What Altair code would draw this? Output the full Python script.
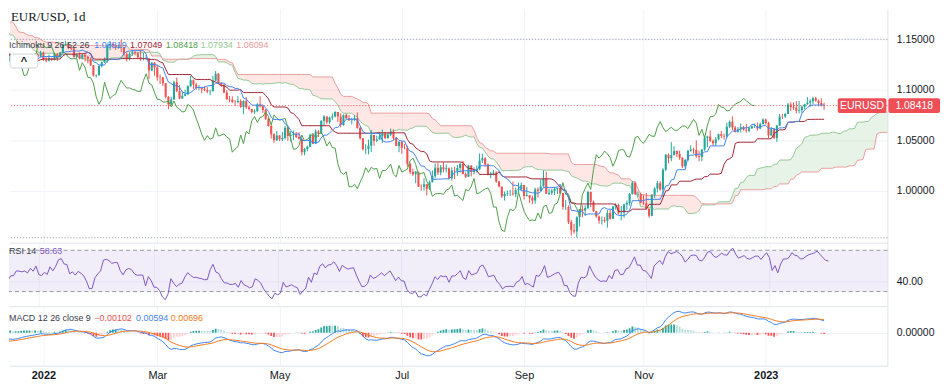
import numpy as np
import pandas as pd
import altair as alt

# ---------------- data (daily EUR/USD bars) ----------------
months = ["2021-09", "2021-10", "2021-11", "2021-12", "2022-01", "2022-02", "2022-03",
          "2022-04", "2022-05", "2022-06", "2022-07", "2022-08", "2022-09", "2022-10",
          "2022-11", "2022-12", "2023-01"]
month_counts = [22, 21, 22, 23, 21, 20, 23, 21, 22, 22, 21, 23, 22, 21, 22, 22, 22]
tick_months = ["2022-01", "2022-03", "2022-05", "2022-07", "2022-09", "2022-11", "2023-01"]
tick_labels = ["2022", "Mar", "May", "Jul", "Sep", "Nov", "2023"]
first_open = 1.1808

close = [
    # 2021-09
    1.1845, 1.1875, 1.1880, 1.1870, 1.1860, 1.1820, 1.1815, 1.1812, 1.1806, 1.1805, 1.1780, 1.1765, 1.1725, 1.1725, 1.1725, 1.1690, 1.1740, 1.1718, 1.1695, 1.1683, 1.1595, 1.1580,
    # 2021-10
    1.1595, 1.1620, 1.1598, 1.1535, 1.1555, 1.1570, 1.1552, 1.1530, 1.1595, 1.1595, 1.1600, 1.1610, 1.1645, 1.1655, 1.1625, 1.1645, 1.1605, 1.1595, 1.1605, 1.1680, 1.1558,
    # 2021-11
    1.1608, 1.1580, 1.1610, 1.1555, 1.1568, 1.1590, 1.1593, 1.1480, 1.1445, 1.1445, 1.1368, 1.1320, 1.1320, 1.1370, 1.1290, 1.1235, 1.1250, 1.1200, 1.1210, 1.1318, 1.1290, 1.1338,
    # 2021-12
    1.1320, 1.1305, 1.1315, 1.1285, 1.1265, 1.1345, 1.1290, 1.1318, 1.1285, 1.1260, 1.1289, 1.1330, 1.1238, 1.1282, 1.1283, 1.1329, 1.1327, 1.1320, 1.1327, 1.1311, 1.1348, 1.1326, 1.1370,
    # 2022-01
    1.1298, 1.1287, 1.1313, 1.1295, 1.1360, 1.1326, 1.1368, 1.1440, 1.1455, 1.1413, 1.1408, 1.1325, 1.1343, 1.1311, 1.1344, 1.1326, 1.1302, 1.1243, 1.1142, 1.1146, 1.1235,
    # 2022-02
    1.1272, 1.1303, 1.1440, 1.1453, 1.1440, 1.1415, 1.1425, 1.1424, 1.1351, 1.1307, 1.1357, 1.1372, 1.1361, 1.1322, 1.1306, 1.1308, 1.1308, 1.1191, 1.1268, 1.1219,
    # 2022-03
    1.1123, 1.1120, 1.1065, 1.0930, 1.0855, 1.0904, 1.1074, 1.0987, 1.0912, 1.0941, 1.0955, 1.1033, 1.1093, 1.1051, 1.1016, 1.1018, 1.1004, 1.0997, 1.0983, 1.0984, 1.1089, 1.1158, 1.1066,
    # 2022-04
    1.1048, 1.0971, 1.0905, 1.0901, 1.0878, 1.0877, 1.0887, 1.0829, 1.0888, 1.0826, 1.0808, 1.0778, 1.0786, 1.0854, 1.0835, 1.0798, 1.0713, 1.0641, 1.0557, 1.0498, 1.0545,
    # 2022-05
    1.0508, 1.0522, 1.0622, 1.0540, 1.0550, 1.0562, 1.0531, 1.0513, 1.0380, 1.0411, 1.0435, 1.0550, 1.0465, 1.0586, 1.0562, 1.0691, 1.0734, 1.0676, 1.0725, 1.0733, 1.0779, 1.0734,
    # 2022-06
    1.0650, 1.0750, 1.0718, 1.0697, 1.0707, 1.0716, 1.0620, 1.0518, 1.0409, 1.0413, 1.0445, 1.0551, 1.0493, 1.0507, 1.0535, 1.0566, 1.0522, 1.0552, 1.0582, 1.0520, 1.0442, 1.0484,
    # 2022-07
    1.0425, 1.0422, 1.0265, 1.0183, 1.0161, 1.0186, 1.0038, 1.0037, 1.0062, 1.0018, 1.0082, 1.0143, 1.0227, 1.0180, 1.0230, 1.0212, 1.0220, 1.0121, 1.0199, 1.0196, 1.0224,
    # 2022-08
    1.0262, 1.0163, 1.0136, 1.0248, 1.0183, 1.0197, 1.0212, 1.0297, 1.0321, 1.0259, 1.0160, 1.0170, 1.0178, 1.0090, 1.0038, 0.9943, 0.9966, 0.9970, 0.9970, 0.9963, 1.0003, 1.0016, 1.0055,
    # 2022-09
    0.9945, 0.9954, 0.9928, 0.9901, 1.0010, 0.9998, 1.0041, 1.0120, 0.9968, 0.9978, 0.9998, 1.0016, 1.0026, 0.9973, 0.9836, 0.9836, 0.9689, 0.9607, 0.9594, 0.9735, 0.9816, 0.9801,
    # 2022-10
    0.9826, 0.9985, 0.9889, 0.9795, 0.9742, 0.9702, 0.9708, 0.9701, 0.9778, 0.9721, 0.9840, 0.9856, 0.9774, 0.9780, 0.9861, 0.9876, 0.9965, 1.0078, 0.9962, 0.9965, 0.9882,
    # 2022-11
    0.9875, 0.9819, 0.9750, 0.9958, 1.0019, 1.0073, 1.0010, 1.0207, 1.0355, 1.0321, 1.0351, 1.0391, 1.0363, 1.0325, 1.0241, 1.0302, 1.0395, 1.0407, 1.0401, 1.0340, 1.0332, 1.0406,
    # 2022-12
    1.0524, 1.0537, 1.0492, 1.0468, 1.0508, 1.0557, 1.0540, 1.0537, 1.0632, 1.0683, 1.0625, 1.0583, 1.0607, 1.0628, 1.0602, 1.0594, 1.0617, 1.0638, 1.0640, 1.0614, 1.0660, 1.0705,
    # 2023-01
    1.0669, 1.0547, 1.0607, 1.0521, 1.0645, 1.0734, 1.0733, 1.0760, 1.0853, 1.0828, 1.0821, 1.0790, 1.0795, 1.0830, 1.0856, 1.0870, 1.0885, 1.0914, 1.0890, 1.0868, 1.0846, 1.08418,
]

high = [
    1.1857, 1.1885, 1.1909, 1.1885, 1.1873, 1.1868, 1.1830, 1.1845, 1.1825, 1.1810, 1.1845, 1.1812, 1.1777, 1.1750, 1.1745, 1.1755, 1.1750, 1.1752, 1.1730, 1.1710, 1.1690, 1.1610,
    1.1610, 1.1640, 1.1625, 1.1605, 1.1570, 1.1585, 1.1585, 1.1565, 1.1605, 1.1625, 1.1625, 1.1640, 1.1670, 1.1668, 1.1665, 1.1660, 1.1650, 1.1625, 1.1620, 1.1692, 1.1690,
    1.1615, 1.1615, 1.1615, 1.1616, 1.1570, 1.1600, 1.1610, 1.1600, 1.1480, 1.1464, 1.1450, 1.1375, 1.1348, 1.1375, 1.1374, 1.1295, 1.1270, 1.1258, 1.1225, 1.1330, 1.1310, 1.1382,
    1.1360, 1.1330, 1.1350, 1.1310, 1.1300, 1.1355, 1.1345, 1.1328, 1.1325, 1.1310, 1.1300, 1.1360, 1.1335, 1.1305, 1.1305, 1.1345, 1.1350, 1.1335, 1.1335, 1.1345, 1.1362, 1.1370, 1.1386,
    1.1376, 1.1323, 1.1347, 1.1317, 1.1365, 1.1362, 1.1375, 1.1450, 1.1483, 1.1465, 1.1425, 1.1413, 1.1363, 1.1369, 1.1360, 1.1368, 1.1338, 1.1320, 1.1245, 1.1150, 1.1243,
    1.1280, 1.1320, 1.1450, 1.1483, 1.1470, 1.1448, 1.1450, 1.1495, 1.1425, 1.1370, 1.1370, 1.1395, 1.1385, 1.1374, 1.1395, 1.1365, 1.1345, 1.1315, 1.1275, 1.1275,
    1.1245, 1.1150, 1.1125, 1.1065, 1.0935, 1.0930, 1.1090, 1.1120, 1.1045, 1.0985, 1.1000, 1.1045, 1.1138, 1.1100, 1.1070, 1.1045, 1.1025, 1.1035, 1.1025, 1.1000, 1.1135, 1.1185, 1.1165,
    1.1076, 1.1055, 1.0995, 1.0937, 1.0935, 1.0898, 1.0935, 1.0905, 1.0895, 1.0925, 1.0840, 1.0810, 1.0805, 1.0866, 1.0936, 1.0850, 1.0810, 1.0725, 1.0655, 1.0568, 1.0590,
    1.0550, 1.0580, 1.0640, 1.0642, 1.0590, 1.0595, 1.0580, 1.0577, 1.0515, 1.0425, 1.0445, 1.0565, 1.0565, 1.0606, 1.0600, 1.0697, 1.0748, 1.0736, 1.0735, 1.0765, 1.0787, 1.0780,
    1.0765, 1.0755, 1.0765, 1.0750, 1.0720, 1.0748, 1.0774, 1.0635, 1.0520, 1.0460, 1.0505, 1.0601, 1.0550, 1.0545, 1.0580, 1.0605, 1.0580, 1.0570, 1.0615, 1.0606, 1.0530, 1.0487,
    1.0486, 1.0463, 1.0445, 1.0275, 1.0215, 1.0195, 1.0160, 1.0060, 1.0120, 1.0065, 1.0098, 1.0200, 1.0268, 1.0275, 1.0255, 1.0280, 1.0260, 1.0230, 1.0230, 1.0235, 1.0254,
    1.0274, 1.0294, 1.0180, 1.0255, 1.0250, 1.0230, 1.0248, 1.0368, 1.0364, 1.0330, 1.0268, 1.0185, 1.0203, 1.0190, 1.0096, 1.0040, 0.9990, 0.9999, 1.0005, 1.0090, 1.0030, 1.0079, 1.0080,
    1.0056, 1.0034, 0.9940, 0.9950, 1.0029, 1.0030, 1.0112, 1.0198, 1.0187, 1.0018, 1.0020, 1.0036, 1.0030, 1.0051, 0.9976, 0.9906, 0.9852, 0.9709, 0.9670, 0.9745, 0.9817, 0.9854,
    0.9855, 0.9999, 0.9990, 0.9900, 0.9798, 0.9752, 0.9743, 0.9738, 0.9806, 0.9810, 0.9848, 0.9875, 0.9870, 0.9845, 0.9870, 0.9900, 0.9976, 1.0094, 1.0088, 0.9990, 0.9980,
    0.9954, 0.9976, 0.9822, 0.9964, 1.0032, 1.0095, 1.0093, 1.0222, 1.0362, 1.0368, 1.0480, 1.0439, 1.0396, 1.0395, 1.0330, 1.0315, 1.0403, 1.0448, 1.0425, 1.0497, 1.0395, 1.0410,
    1.0545, 1.0545, 1.0595, 1.0505, 1.0530, 1.0565, 1.0590, 1.0565, 1.0673, 1.0695, 1.0736, 1.0640, 1.0630, 1.0665, 1.0640, 1.0660, 1.0630, 1.0645, 1.0665, 1.0675, 1.0673, 1.0715,
    1.0712, 1.0683, 1.0630, 1.0620, 1.0650, 1.0760, 1.0760, 1.0770, 1.0868, 1.0875, 1.0874, 1.0887, 1.0887, 1.0845, 1.0860, 1.0927, 1.0905, 1.0930, 1.0930, 1.0900, 1.0915, 1.0870,
]

low = [
    1.1800, 1.1835, 1.1860, 1.1860, 1.1835, 1.1805, 1.1782, 1.1800, 1.1770, 1.1780, 1.1775, 1.1745, 1.1700, 1.1700, 1.1710, 1.1680, 1.1685, 1.1700, 1.1680, 1.1675, 1.1585, 1.1563,
    1.1570, 1.1590, 1.1580, 1.1530, 1.1530, 1.1545, 1.1545, 1.1525, 1.1525, 1.1585, 1.1580, 1.1570, 1.1605, 1.1620, 1.1620, 1.1615, 1.1600, 1.1590, 1.1580, 1.1585, 1.1535,
    1.1555, 1.1575, 1.1560, 1.1530, 1.1513, 1.1555, 1.1570, 1.1465, 1.1433, 1.1430, 1.1355, 1.1264, 1.1290, 1.1310, 1.1250, 1.1227, 1.1230, 1.1186, 1.1190, 1.1208, 1.1260, 1.1235,
    1.1300, 1.1290, 1.1290, 1.1270, 1.1230, 1.1265, 1.1275, 1.1262, 1.1280, 1.1250, 1.1222, 1.1275, 1.1230, 1.1233, 1.1265, 1.1270, 1.1305, 1.1315, 1.1305, 1.1300, 1.1290, 1.1300, 1.1320,
    1.1285, 1.1272, 1.1280, 1.1285, 1.1290, 1.1285, 1.1315, 1.1365, 1.1435, 1.1400, 1.1393, 1.1317, 1.1310, 1.1300, 1.1300, 1.1280, 1.1262, 1.1235, 1.1130, 1.1121, 1.1137,
    1.1220, 1.1265, 1.1268, 1.1391, 1.1410, 1.1395, 1.1405, 1.1375, 1.1330, 1.1280, 1.1290, 1.1335, 1.1340, 1.1305, 1.1285, 1.1290, 1.1295, 1.1106, 1.1185, 1.1140,
    1.1090, 1.1056, 1.1038, 1.0915, 1.0806, 1.0850, 1.0903, 1.0975, 1.0905, 1.0910, 1.0935, 1.0945, 1.1030, 1.1005, 1.1000, 1.0995, 1.0965, 1.0985, 1.0965, 1.0945, 1.0985, 1.1085, 1.1055,
    1.1028, 1.0965, 1.0900, 1.0876, 1.0870, 1.0840, 1.0865, 1.0820, 1.0758, 1.0810, 1.0794, 1.0765, 1.0760, 1.0780, 1.0825, 1.0770, 1.0700, 1.0635, 1.0515, 1.0472, 1.0490,
    1.0490, 1.0492, 1.0505, 1.0493, 1.0485, 1.0500, 1.0520, 1.0505, 1.0350, 1.0350, 1.0390, 1.0430, 1.0460, 1.0462, 1.0532, 1.0560, 1.0640, 1.0660, 1.0660, 1.0700, 1.0725, 1.0680,
    1.0627, 1.0642, 1.0705, 1.0690, 1.0655, 1.0690, 1.0615, 1.0505, 1.0398, 1.0360, 1.0358, 1.0382, 1.0445, 1.0480, 1.0505, 1.0470, 1.0510, 1.0515, 1.0540, 1.0500, 1.0440, 1.0380,
    1.0365, 1.0410, 1.0236, 1.0162, 1.0145, 1.0072, 1.0035, 0.9999, 0.9998, 0.9952, 1.0005, 1.0085, 1.0120, 1.0155, 1.0152, 1.0180, 1.0180, 1.0110, 1.0098, 1.0113, 1.0145,
    1.0180, 1.0160, 1.0123, 1.0140, 1.0141, 1.0160, 1.0178, 1.0202, 1.0274, 1.0238, 1.0150, 1.0123, 1.0150, 1.0077, 1.0032, 0.9926, 0.9901, 0.9945, 0.9946, 0.9950, 0.9935, 0.9973, 0.9996,
    0.9910, 0.9940, 0.9877, 0.9864, 0.9870, 0.9930, 0.9995, 1.0040, 0.9966, 0.9955, 0.9955, 0.9956, 0.9966, 0.9967, 0.9810, 0.9807, 0.9668, 0.9553, 0.9571, 0.9536, 0.9643, 0.9736,
    0.9750, 0.9815, 0.9835, 0.9790, 0.9730, 0.9670, 0.9663, 0.9680, 0.9632, 0.9710, 0.9720, 0.9810, 0.9762, 0.9705, 0.9728, 0.9809, 0.9850, 0.9960, 0.9955, 0.9936, 0.9872,
    0.9860, 0.9813, 0.9730, 0.9745, 0.9925, 0.9982, 0.9998, 0.9935, 1.0194, 1.0270, 1.0290, 1.0360, 1.0332, 1.0305, 1.0222, 1.0225, 1.0290, 1.0385, 1.0365, 1.0325, 1.0290, 1.0292,
    1.0394, 1.0430, 1.0480, 1.0445, 1.0443, 1.0498, 1.0520, 1.0505, 1.0520, 1.0620, 1.0598, 1.0575, 1.0573, 1.0575, 1.0595, 1.0573, 1.0578, 1.0610, 1.0620, 1.0593, 1.0610, 1.0655,
    1.0655, 1.0520, 1.0545, 1.0510, 1.0483, 1.0640, 1.0710, 1.0720, 1.0760, 1.0790, 1.0800, 1.0765, 1.0765, 1.0768, 1.0805, 1.0850, 1.0830, 1.0856, 1.0880, 1.0835, 1.0834, 1.0800,
]

price_levels = [1.00, 1.05, 1.10, 1.15]
drawn_levels = [1.15, 0.9532]
title_text = "EUR/USD, 1d"
ichimoku_name = "Ichimoku 9 26 52 26"
ichimoku_values = ["1.08819", "1.07049", "1.08418", "1.07934", "1.06094"]
rsi_name = "RSI 14"
rsi_value = "58.63"
macd_name = "MACD 12 26 close 9"
macd_values = ["\u22120.00102", "0.00594", "0.00696"]
symbol_label = "EURUSD"

# ---------------- derived series ----------------
n = min(len(close), len(high), len(low))
c = np.array(close[:n], dtype=float)
o = np.concatenate([[first_open], c[:-1]])
h = np.maximum(np.array(high[:n], dtype=float), np.maximum(o, c))
lo = np.minimum(np.array(low[:n], dtype=float), np.minimum(o, c))
idx = np.arange(n)
starts = np.concatenate([[0], np.cumsum(month_counts)[:-1]])
start_of = dict(zip(months, starts))
tick_vals = [int(start_of[m]) for m in tick_months]
last_close = float(c[-1])

H = pd.Series(h)
L = pd.Series(lo)
C = pd.Series(c)
conv = (H.rolling(9).max() + L.rolling(9).min()) / 2
base = (H.rolling(26).max() + L.rolling(26).min()) / 2
spanA = (conv + base) / 2
spanB = (H.rolling(52).max() + L.rolling(52).min()) / 2
SHIFT = 25

candles = pd.DataFrame({"i": idx, "o": o, "c": c, "h": h, "l": lo,
                        "col": np.where(c >= o, "#26a69a", "#ef5350")})
conv_df = pd.DataFrame({"i": idx, "v": conv}).dropna()
base_df = pd.DataFrame({"i": idx, "v": base}).dropna()
lag_df = pd.DataFrame({"i": idx - SHIFT, "v": c})
spanA_df = pd.DataFrame({"i": idx + SHIFT, "v": spanA}).dropna()
spanB_df = pd.DataFrame({"i": idx + SHIFT, "v": spanB}).dropna()

# cloud polygons split where span A and span B cross
a_arr = spanA.values
b_arr = spanB.values
rows = []
seg = 0
prev = None
prev_s = None
for k in range(n):
    if np.isnan(a_arr[k]) or np.isnan(b_arr[k]):
        continue
    s = bool(a_arr[k] >= b_arr[k])
    if prev is not None and s != prev_s:
        d0 = a_arr[prev] - b_arr[prev]
        d1 = a_arr[k] - b_arr[k]
        t = d0 / (d0 - d1)
        xc = (prev + SHIFT) + t * (k - prev)
        yc = a_arr[prev] + t * (a_arr[k] - a_arr[prev])
        rows.append((xc, yc, yc, seg, prev_s))
        seg += 1
        rows.append((xc, yc, yc, seg, s))
    rows.append((k + SHIFT, a_arr[k], b_arr[k], seg, s))
    prev, prev_s = k, s
cloud = pd.DataFrame(rows, columns=["i", "a", "b", "seg", "up"])
cloud["col"] = np.where(cloud["up"], "rgba(67,160,71,0.13)", "rgba(244,67,54,0.13)")

# RSI 14 (Wilder)
d = C.diff()
up = d.clip(lower=0).ewm(alpha=1 / 14, adjust=False).mean()
dn = (-d.clip(upper=0)).ewm(alpha=1 / 14, adjust=False).mean()
rsi = 100 - 100 / (1 + up / dn)
rsi_df = pd.DataFrame({"i": idx, "v": rsi}).dropna()

# MACD 12 26 9
ema12 = C.ewm(span=12, adjust=False).mean()
ema26 = C.ewm(span=26, adjust=False).mean()
macd = ema12 - ema26
sig = macd.ewm(span=9, adjust=False).mean()
hist = macd - sig
hprev = hist.shift(1)
hcol = np.where(hist >= 0,
                np.where(hist >= hprev, "#26a69a", "#b2dfdb"),
                np.where(hist <= hprev, "#ff5252", "#ffcdd2"))
macd_df = pd.DataFrame({"i": idx, "m": macd, "s": sig, "hst": hist, "z": 0.0, "col": hcol})

# ---------------- layout / scales ----------------
W = 885
H_MAIN, H_RSI, H_MACD = 235, 64, 60
FONT = "Liberation Sans"
HFS = 9  # legend/header font size
XDOM = [77.4, 390.0]
XS = alt.Scale(domain=XDOM, nice=False, zero=False)

label_expr = "''"
for v, lab in reversed(list(zip(tick_vals, tick_labels))):
    label_expr = f"datum.value == {v} ? '{lab}' : ({label_expr})"
bold_test = " || ".join(f"datum.value == {tick_vals[j]}" for j in (0, len(tick_vals) - 1))

XAX_HIDDEN = alt.Axis(values=tick_vals, labels=False, ticks=False, domain=True,
                      domainColor="#e0e3eb", grid=True, gridColor="#f0f3fa", title=None)
XAX_BOTTOM = alt.Axis(values=tick_vals, labelExpr=label_expr, ticks=False, domain=True,
                      domainColor="#e0e3eb", grid=True, gridColor="#f0f3fa", title=None,
                      labelFont=FONT, labelFontSize=11, labelColor="#131722", labelPadding=4,
                      labelFontWeight={"condition": {"test": bold_test, "value": "bold"}, "value": "normal"})


def yaxis(vals, fmt):
    return alt.Axis(orient="right", values=vals, format=fmt, grid=True, gridColor="#f0f3fa",
                    ticks=False, domain=True, domainColor="#e0e3eb", labelColor="#131722",
                    labelFont=FONT, labelFontSize=10.5, labelPadding=9, labelAlign="left", title=None)


YM = alt.Scale(domain=[0.94833, 1.17963], nice=False, zero=False)
YAX_M = yaxis(price_levels, ".5f")
YR = alt.Scale(domain=[15.87, 77.4], nice=False, zero=False)
YAX_R = yaxis([40], ".2f")

vis = idx >= 78
mmax = float(max(macd[vis].max(), sig[vis].max()))
mmin = float(min(macd[vis].min(), sig[vis].min()))
kpx = (357.0 - 312.3) / (mmax - mmin)
YMD = alt.Scale(domain=[mmin - 10.0 / kpx, mmax + 5.3 / kpx], nice=False, zero=False)
YAX_MD = yaxis([0], ".5f")


def X(field, axis):
    return alt.X(field, type="quantitative", scale=XS, axis=axis, title=None)


def txt(text, x, y, color, size=HFS, font=FONT, weight="normal", align="left"):
    return alt.Chart(pd.DataFrame({"t": [text]})).mark_text(
        align=align, baseline="middle", font=font, fontSize=size, color=color, fontWeight=weight
    ).encode(text="t:N", x=alt.value(x), y=alt.value(y))


def line(df, color, ysc, yax, axis, width=1.0):
    return alt.Chart(df).mark_line(color=color, strokeWidth=width, clip=True).encode(
        x=X("i", axis), y=alt.Y("v:Q", scale=ysc, axis=yax))


# ---------------- main panel ----------------
cloud_layer = alt.Chart(cloud).mark_area(clip=True).encode(
    x=X("i", XAX_HIDDEN),
    y=alt.Y("a:Q", scale=YM, axis=YAX_M),
    y2="b:Q",
    color=alt.Color("col:N", scale=None),
    detail="seg:N",
)
spanA_l = line(spanA_df, "#93c994", YM, YAX_M, XAX_HIDDEN)
spanB_l = line(spanB_df, "#eb9c9c", YM, YAX_M, XAX_HIDDEN)
lag_l = line(lag_df, "#4f9e4a", YM, YAX_M, XAX_HIDDEN)
base_l = line(base_df, "#a32434", YM, YAX_M, XAX_HIDDEN)
conv_l = line(conv_df, "#3f86f2", YM, YAX_M, XAX_HIDDEN)

levels = alt.Chart(pd.DataFrame({"p": drawn_levels})).mark_rule(
    color="#9598a1", strokeDash=[1, 2], strokeWidth=1).encode(
    y=alt.Y("p:Q", scale=YM, axis=YAX_M))
cur = alt.Chart(pd.DataFrame({"p": [last_close]})).mark_rule(
    color="#ef5350", strokeDash=[1, 2], strokeWidth=1).encode(
    y=alt.Y("p:Q", scale=YM, axis=YAX_M))

wicks = alt.Chart(candles).mark_rule(strokeWidth=1, clip=True).encode(
    x=X("i", XAX_HIDDEN),
    y=alt.Y("l:Q", scale=YM, axis=YAX_M), y2="h:Q",
    color=alt.Color("col:N", scale=None))
bodies = alt.Chart(candles).mark_bar(width=2.1, clip=True).encode(
    x=X("i", XAX_HIDDEN),
    y=alt.Y("o:Q", scale=YM, axis=YAX_M), y2="c:Q",
    color=alt.Color("col:N", scale=None))

badge_df = pd.DataFrame({"p": [last_close], "t1": [symbol_label], "t2": [f"{last_close:.5f}"]})
badge1 = alt.Chart(badge_df).mark_rect(height=15, color="#ef4e57", cornerRadius=2).encode(
    x=alt.value(835), x2=alt.value(884), y=alt.Y("p:Q", scale=YM, axis=YAX_M))
badge2 = alt.Chart(badge_df).mark_rect(height=15, color="#ef4e57", cornerRadius=2).encode(
    x=alt.value(886), x2=alt.value(938), y=alt.Y("p:Q", scale=YM, axis=YAX_M))
badge1_t = alt.Chart(badge_df).mark_text(font=FONT, fontSize=10.5, color="white", align="center",
                                         baseline="middle").encode(
    text="t1:N", x=alt.value(859.5), y=alt.Y("p:Q", scale=YM, axis=YAX_M))
badge2_t = alt.Chart(badge_df).mark_text(font=FONT, fontSize=10.5, color="white", align="center",
                                         baseline="middle").encode(
    text="t2:N", x=alt.value(912), y=alt.Y("p:Q", scale=YM, axis=YAX_M))

btn = alt.Chart(pd.DataFrame({"t": ["^"]})).mark_rect(
    fill="white", stroke="#d1d4dc", strokeWidth=1, cornerRadius=3).encode(
    x=alt.value(1), x2=alt.value(29), y=alt.value(45), y2=alt.value(59))
btn_t = txt("^", 15, 53, "#131722", size=11, weight="bold", align="center")

ich_cols = ["#3f86f2", "#a32434", "#4f9e4a", "#93c994", "#eb9c9c"]
ich_x = [86, 122, 158, 193, 229]
ich_texts = [txt(v, x, 35.5, col) for v, x, col in zip(ichimoku_values, ich_x, ich_cols)]

main = alt.layer(
    cloud_layer, spanA_l, spanB_l, levels, cur, wicks, bodies, lag_l, base_l, conv_l,
    badge1, badge2, badge1_t, badge2_t, btn, btn_t,
    txt(title_text, 2, 8, "#131722", size=13, font="Liberation Serif"),
    txt(ichimoku_name, 0, 35.5, "#3a3e4a"),
    *ich_texts,
).properties(width=W, height=H_MAIN)

# ---------------- RSI panel ----------------
band = alt.Chart(pd.DataFrame({"lo": [30], "hi": [70]})).mark_rect(
    color="#7e57c2", opacity=0.1).encode(
    x=alt.value(0), x2=alt.value(W), y=alt.Y("lo:Q", scale=YR, axis=YAX_R), y2="hi:Q")
band_lines = alt.Chart(pd.DataFrame({"v": [30, 70]})).mark_rule(
    color="#9598a1", strokeDash=[4, 3], strokeWidth=1).encode(
    y=alt.Y("v:Q", scale=YR, axis=YAX_R))
rsi_l = line(rsi_df, "#7e57c2", YR, YAX_R, XAX_HIDDEN)
rsi_panel = alt.layer(
    band, band_lines, rsi_l,
    txt(rsi_name, 0, 8.7, "#3a3e4a"),
    txt(rsi_value, 31, 8.7, "#7e57c2"),
).properties(width=W, height=H_RSI)

# ---------------- MACD panel ----------------
hist_b = alt.Chart(macd_df).mark_bar(width=1.8, clip=True).encode(
    x=X("i", XAX_BOTTOM),
    y=alt.Y("hst:Q", scale=YMD, axis=YAX_MD), y2="z:Q",
    color=alt.Color("col:N", scale=None))
macd_l = alt.Chart(macd_df).mark_line(color="#3f86f2", strokeWidth=1, clip=True).encode(
    x=X("i", XAX_BOTTOM), y=alt.Y("m:Q", scale=YMD, axis=YAX_MD))
sig_l = alt.Chart(macd_df).mark_line(color="#f57c20", strokeWidth=1, clip=True).encode(
    x=X("i", XAX_BOTTOM), y=alt.Y("s:Q", scale=YMD, axis=YAX_MD))
macd_cols = ["#ef5350", "#3f86f2", "#f57c20"]
macd_x = [86, 128, 163]
macd_texts = [txt(v, x, 12.3, col) for v, x, col in zip(macd_values, macd_x, macd_cols)]
macd_panel = alt.layer(
    hist_b, macd_l, sig_l,
    txt(macd_name, 0, 12.3, "#3a3e4a"),
    *macd_texts,
).properties(width=W, height=H_MACD)

chart = alt.vconcat(main, rsi_panel, macd_panel, spacing=0).resolve_scale(
    y="independent"
).properties(padding=0, background="white").configure_view(stroke=None)

chart.save("out.html", embed_options={"renderer": "svg", "actions": False})
